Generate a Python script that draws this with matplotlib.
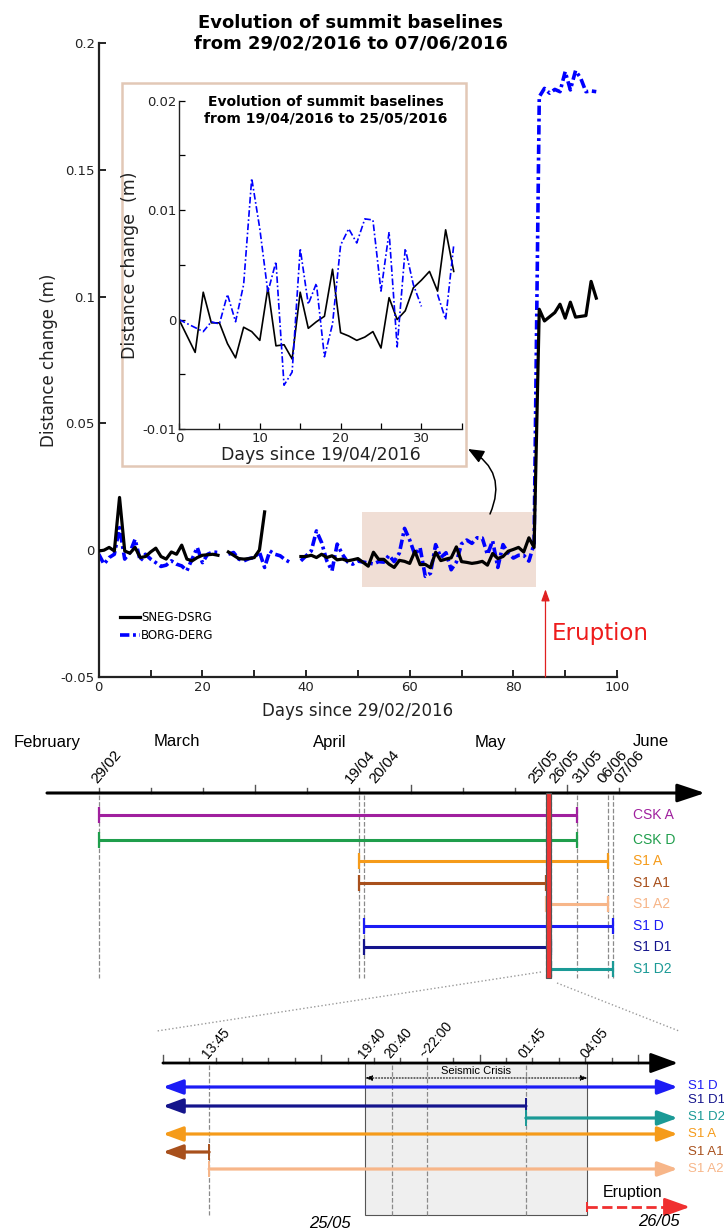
#!/usr/bin/env python3
"""
Summit baselines before/after the May 2016 eruption, with the SAR
acquisition timeline and a zoom on the night of 25-26/05.
"""

import numpy as np
import matplotlib
matplotlib.use("Agg")
import matplotlib.pyplot as plt
from matplotlib.patches import Rectangle
from matplotlib.ticker import MultipleLocator

nan = np.nan

# -- Main plot: days since 29/02/2016, distance change (m) ----------------
sneg_days = (list(range(0, 21)) + [22, 23, 24] + list(range(25, 34))
             + list(range(39, 51)) + list(range(52, 87))
             + [88, 89, 90, 91, 92, 94, 95, 96])
sneg_vals = [
    -0.0003, 0.0000, 0.0011, -0.0003, 0.0208, -0.0003, -0.0012, 0.0011,
    -0.0029, -0.0025, -0.0007, 0.0008, -0.0025, -0.0035, -0.0007, -0.0016,
    0.0020, -0.0035, -0.0042, -0.0029, -0.0020,
    -0.0016, -0.0020, nan,
    -0.0007, -0.0020, -0.0033, -0.0035, -0.0033, -0.0029, 0.0001, 0.0151, nan,
    -0.0025, -0.0025, -0.0020, -0.0029, -0.0016, -0.0029, -0.0022, -0.0038,
    -0.0035, -0.0042, -0.0038, -0.0033,
    -0.0063, -0.0008, -0.0036, -0.0036, -0.0055, -0.0068, -0.0040, -0.0044,
    -0.0052, -0.0004, -0.0057, -0.0056, -0.0069, -0.0008, -0.0041, -0.0035,
    -0.0030, 0.0013, -0.0045, -0.0048, -0.0052, -0.0049, -0.0044, -0.0059,
    -0.0013, -0.0033, -0.0025, -0.0004, 0.0003, 0.0011, -0.0007, 0.0049,
    0.0011, 0.0950, 0.0904,
    0.0937, 0.0970, 0.0915, 0.0978, 0.0919, 0.0925, 0.1060, 0.0994,
]

borg_days = (list(range(0, 25)) + list(range(25, 39))
             + list(range(39, 51)) + list(range(53, 97)))
borg_vals = [
    -0.0016, -0.0055, -0.0029, -0.0016, 0.0089, -0.0035, -0.0009, 0.0043,
    -0.0042, -0.0016, -0.0035, -0.0049, -0.0064, -0.0059, -0.0042, -0.0055,
    -0.0062, -0.0081, -0.0035, 0.0011, -0.0049, -0.0016, -0.0007, -0.0009, nan,
    -0.0016, -0.0009, -0.0035, -0.0042, -0.0033, -0.0029, -0.0007, -0.0068,
    -0.0003, -0.0016, -0.0022, -0.0038, -0.0049, nan,
    -0.0042, -0.0022, -0.0003, 0.0076, 0.0030, -0.0042, -0.0081, 0.0024,
    -0.0016, -0.0046, -0.0055, -0.0043,
    -0.0054, -0.0045, -0.0047, -0.0020, -0.0045, -0.0011, 0.0086, 0.0040,
    -0.0018, 0.0010, -0.0103, -0.0091, 0.0022, -0.0029, -0.0010, -0.0077,
    -0.0047, 0.0025, 0.0040, 0.0027, 0.0049, 0.0048, -0.0017, 0.0037,
    -0.0068, 0.0022, -0.0011, -0.0031, -0.0020, -0.0020, -0.0043, 0.0025,
    0.1788, 0.1821, 0.1802, 0.1817, 0.1808, 0.1887, 0.1815, 0.1891,
    0.1861, 0.1808, 0.1811, 0.1808,
]
eruption_day = 86.2
zoom_window = (50.8, 84.4)   # shaded span shown in the inset

# -- Inset: days since 19/04/2016 -------------------------------------------
inset_black_days = [0] + list(range(2, 35))
inset_black = [
    0.0, -0.0030, 0.0025, -0.0003, -0.0003, -0.0022, -0.0035, -0.0007,
    -0.0011, -0.0019, 0.0029, -0.0024, -0.0023, -0.0036, 0.0025, -0.0008,
    -0.0002, 0.0003, 0.0046, -0.0012, -0.0015, -0.0019, -0.0016, -0.0011,
    -0.0026, 0.0020, 0.0, 0.0008, 0.0029, 0.0036, 0.0044, 0.0026, 0.0082,
    0.0044,
]
inset_blue_days = [0] + list(range(3, 35))
inset_blue = [
    0.0, -0.0011, -0.0002, -0.0004, 0.0023, -0.0002, 0.0032, 0.0129,
    0.0083, 0.0025, 0.0053, -0.0060, -0.0048, 0.0065, 0.0014, 0.0033,
    -0.0034, -0.0004, 0.0068, 0.0083, 0.0070, 0.0092, 0.0091, 0.0026,
    0.0080, -0.0025, 0.0065, 0.0032, 0.0012, nan, 0.0023, 0.0, 0.0068,
]

# -- Acquisition timeline (days since 29/02/2016) ---------------------------
months = ["February", "March", "April", "May", "June"]
date_labels = ["29/02", "19/04", "20/04", "25/05", "26/05", "31/05", "06/06", "07/06"]
date_days = [0, 50, 51, 86, 87, 92, 98, 99]
tracks = ["CSK A", "CSK D", "S1 A", "S1 A1", "S1 A2", "S1 D", "S1 D1", "S1 D2"]
track_start = [0, 0, 50, 50, 86, 51, 51, 87]
track_end = [92, 92, 98, 86, 98, 99, 87, 99]

# -- Zoom on 25-26/05 (hours since 25/05 00:00) -----------------------------
event_labels = ["13:45", "19:40", "20:40", "~22:00", "01:45", "04:05"]
event_hours = [13.75, 19.667, 20.667, 22.0, 25.75, 28.083]
crisis = (19.667, 28.083)
zoom_tracks = ["S1 D", "S1 D1", "S1 D2", "S1 A", "S1 A1", "S1 A2"]
zoom_start = [nan, nan, 25.75, nan, nan, 13.75]   # nan = before window
zoom_end = [nan, 25.75, nan, nan, 13.75, nan]     # nan = after window

colors = {
    "CSK A": "#a0209e", "CSK D": "#1f9e4c", "S1 A": "#f59b1a",
    "S1 A1": "#a8501c", "S1 A2": "#f7b689", "S1 D": "#1c1cf5",
    "S1 D1": "#14148c", "S1 D2": "#1b9a96",
}

W, H = 724, 1230
SANS = "DejaVu Sans"
LIB = "Liberation Sans"


def overlay(fig, xlim):
    """Transparent full-figure axes: x in given units, y in pixels (down)."""
    a = fig.add_axes([0, 0, 1, 1])
    a.set_xlim(*xlim)
    a.set_ylim(H, 0)
    a.axis("off")
    return a


def main():
    plt.rcParams["font.family"] = SANS
    fig = plt.figure(figsize=(W / 100, H / 100), dpi=100)

    # -- Main baseline plot ------------------------------------------------
    ax = fig.add_axes([98.8 / W, 1 - 677 / H, (617 - 98.8) / W, (677 - 43) / H])
    ax.set_xlim(0, 100)
    ax.set_ylim(-0.05, 0.2)
    ax.add_patch(Rectangle((zoom_window[0], -0.0145),
                           zoom_window[1] - zoom_window[0], 0.0294,
                           fc="#f0ded5", ec="none", zorder=0))
    ax.plot(sneg_days, sneg_vals, color="black", lw=2.3, label="SNEG-DSRG", zorder=3)
    ax.plot(borg_days, borg_vals, color="blue", lw=2.6, ls="-.",
            dashes=(2.6, 1.0, 0.8, 1.0), label="BORG-DERG", zorder=2)
    ax.annotate("", xy=(eruption_day, -0.0154), xytext=(eruption_day, -0.05),
                arrowprops=dict(arrowstyle="-|>,head_length=0.5,head_width=0.18",
                                color="#e02020", lw=0.9, mutation_scale=14,
                                shrinkA=0, shrinkB=0))
    ax.text(eruption_day + 1.3, -0.0327, "Eruption", color="#ee1c1c",
            fontsize=16.5, va="center", ha="left")

    for side in ("top", "right"):
        ax.spines[side].set_visible(False)
    for side in ("left", "bottom"):
        ax.spines[side].set_linewidth(1.6)
        ax.spines[side].set_color("#222")
    ax.set_xticks([0, 20, 40, 60, 80, 100])
    ax.xaxis.set_minor_locator(MultipleLocator(10))
    ax.set_yticks([-0.05, 0, 0.05, 0.1, 0.15, 0.2])
    ax.set_yticklabels(["-0.05", "0", "0.05", "0.1", "0.15", "0.2"])
    ax.tick_params(which="both", direction="in", length=5, width=1.2,
                   labelsize=9.5, labelcolor="#222", pad=3)
    ax.set_xlabel("Days since 29/02/2016", fontsize=12, color="#222", labelpad=6)
    ax.set_ylabel("Distance change (m)", fontsize=12, color="#222", labelpad=2)
    ax.legend(loc="lower left", bbox_to_anchor=(0.04, 0.055), frameon=False,
              fontsize=8.5, handlelength=1.7, handletextpad=0.15,
              labelspacing=0.45, borderpad=0, borderaxespad=0)
    fig.text(351 / W, 1 - 33 / H,
             "Evolution of summit baselines\nfrom 29/02/2016 to 07/06/2016",
             ha="center", va="center", fontsize=13, fontweight="bold",
             linespacing=1.2)

    # -- Pixel overlay: inset frame, curved arrow, zoom guides -------------
    px = overlay(fig, (0, W))
    px.add_patch(Rectangle((122, 83), 344, 383, fc="white", ec="#e2c8b6", lw=1.8))
    px.annotate("", xy=(468, 449), xytext=(490, 514),
                arrowprops=dict(arrowstyle="-|>,head_length=0.6,head_width=0.25",
                                connectionstyle="arc3,rad=0.45", color="black",
                                lw=1.1, mutation_scale=16, shrinkA=0, shrinkB=0))
    px.plot([541, 157], [972, 1031], color="#9a9a9a", ls=":", lw=1)
    px.plot([557, 679], [983, 1031], color="#9a9a9a", ls=":", lw=1)

    # -- Inset -------------------------------------------------------------
    ins = fig.add_axes([179 / W, 1 - 429 / H, (461.8 - 179) / W, (429 - 100.7) / H])
    ins.set_xlim(0, 35)
    ins.set_ylim(-0.01, 0.02)
    ins.plot(inset_black_days, inset_black, color="black", lw=1.2)
    ins.plot(inset_blue_days, inset_blue, color="blue", lw=1.2, ls="-.",
             dashes=(4, 1.5, 1, 1.5))
    for side in ("top", "right"):
        ins.spines[side].set_visible(False)
    for side in ("left", "bottom"):
        ins.spines[side].set_linewidth(1.0)
        ins.spines[side].set_color("#222")
    ins.set_xticks([0, 10, 20, 30])
    ins.xaxis.set_minor_locator(MultipleLocator(5))
    ins.set_yticks([-0.01, 0, 0.01, 0.02])
    ins.set_yticklabels(["-0.01", "0", "0.01", "0.02"])
    ins.yaxis.set_minor_locator(MultipleLocator(0.005))
    ins.tick_params(which="both", direction="in", length=4, width=0.9,
                    labelsize=9.5, labelcolor="#222", pad=2)
    ins.set_xlabel("Days since 19/04/2016", fontsize=12.5, color="#222", labelpad=1)
    ins.set_ylabel("Distance change  (m)", fontsize=12.5, color="#222", labelpad=2)
    fig.text(326 / W, 1 - 110 / H,
             "Evolution of summit baselines\nfrom 19/04/2016 to 25/05/2016",
             ha="center", va="center", fontsize=10, fontweight="bold")

    # -- Acquisition timeline (x in days) ----------------------------------
    k, x0 = 5.2, 98.5
    tl = overlay(fig, (-x0 / k, (W - x0) / k))
    y_axis = 793
    tl.annotate("", xy=((705 - x0) / k, y_axis), xytext=((47 - x0) / k, y_axis),
                arrowprops=dict(arrowstyle="-|>,head_length=0.6,head_width=0.2",
                                color="black", lw=2.2, mutation_scale=28,
                                shrinkA=0, shrinkB=0))
    for d in range(0, 101, 10):
        top = y_axis - (8 if d in (30, 60, 90) else 5)
        tl.plot([d, d], [y_axis, top], color="#555", lw=1)
    for d in date_days:
        tl.plot([d, d], [y_axis + 2, 978], color="#8a8a8a", ls="--", lw=0.9, zorder=1)
    tl.add_patch(Rectangle((86, y_axis), 1, 978 - y_axis, fc="#ee3535",
                           ec="#555", lw=0.8, zorder=5))

    row_y = [815, 840, 861, 883, 904, 926, 947, 969]
    for name, s, e, y in zip(tracks, track_start, track_end, row_y):
        c = colors[name]
        tl.plot([s, e], [y, y], color=c, lw=2.2, zorder=3, solid_capstyle="butt")
        tl.plot([s, e], [y, y], ls="none", marker="|", ms=11, mew=1.6,
                color=c, zorder=3)
        px.text(633, y, name, color=c, fontsize=10, va="center", ha="left",
                family=LIB)

    month_px = [47, 177, 330, 490, 651]
    for m, x in zip(months, month_px):
        px.text(x, 742, m, ha="center", va="center", fontsize=12, family=LIB)
    label_px = [97, 351, 375, 534, 555, 578, 603, 620]
    for lab, x in zip(date_labels, label_px):
        px.text(x, 784, lab, rotation=50, rotation_mode="anchor", ha="left",
                va="baseline", fontsize=11, family=LIB)

    # -- Zoom on 25-26/05 (x in hours) -------------------------------------
    kh, h0, hx0 = 26.4, 12.0, 162.9
    zl = overlay(fig, (h0 - hx0 / kh, h0 + (W - hx0) / kh))
    yz = 1063
    left, right = 12.0, 31.5
    zl.add_patch(Rectangle((crisis[0], yz), crisis[1] - crisis[0], 1215 - yz,
                           fc="#efefef", ec="#555", lw=0.8, zorder=0))
    zl.annotate("", xy=(h0 + (678 - hx0) / kh, yz), xytext=(left, yz),
                arrowprops=dict(arrowstyle="-|>,head_length=0.6,head_width=0.22",
                                color="black", lw=2.0, mutation_scale=28,
                                shrinkA=0, shrinkB=0))
    for h in range(12, 31):
        top = yz - (8 if h in (12, 18, 24, 30) else 5)
        zl.plot([h, h], [yz, top], color="#555", lw=1)
    for h in event_hours:
        if h in crisis:
            continue
        zl.plot([h, h], [yz + 2, 1215], color="#8a8a8a", ls="--", lw=0.9, zorder=1)
    for lab, h in zip(event_labels, event_hours):
        zl.text(h - 0.04, 1059, lab, rotation=50, rotation_mode="anchor",
                ha="left", va="baseline", fontsize=10, family=LIB)

    zl.text(sum(crisis) / 2, 1071, "Seismic Crisis", ha="center", va="center",
            fontsize=8, family=LIB)
    zl.annotate("", xy=(crisis[1], 1078), xytext=(crisis[0], 1078),
                arrowprops=dict(arrowstyle="<|-|>,head_length=0.5,head_width=0.2",
                                color="black", lw=0.8, ls=":", mutation_scale=8,
                                shrinkA=0, shrinkB=0))

    zrow_y = [1087, 1106, 1118, 1134, 1152, 1169]
    zlab_y = [1086, 1100, 1117, 1134, 1152, 1169]
    for name, s, e, y, ly in zip(zoom_tracks, zoom_start, zoom_end, zrow_y, zlab_y):
        c = colors[name]
        open_l, open_r = np.isnan(s), np.isnan(e)
        a = left if open_l else s
        b = right if open_r else e
        style = {(True, True): "<|-|>", (True, False): "<|-",
                 (False, True): "-|>"}[(open_l, open_r)]
        zl.annotate("", xy=(b, y), xytext=(a, y),
                    arrowprops=dict(arrowstyle=style + ",head_length=0.6,head_width=0.22",
                                    color=c, lw=2.3, mutation_scale=20,
                                    shrinkA=0, shrinkB=0))
        for end, is_open in ((a, open_l), (b, open_r)):
            if not is_open:
                zl.plot([end], [y], ls="none", marker="|", ms=11, mew=1.4, color=c)
        px.text(688, ly, name, color=c, fontsize=9.5, va="center", ha="left",
                family=LIB)

    # eruption onset after the crisis
    y_er = 1207
    zl.plot([crisis[1], 31.2], [y_er, y_er], color="#f03030", lw=2, ls="--")
    zl.plot([crisis[1]], [y_er], ls="none", marker="|", ms=7, mew=1.4, color="#f03030")
    zl.annotate("", xy=(h0 + (690 - hx0) / kh, y_er), xytext=(31.0, y_er),
                arrowprops=dict(arrowstyle="-|>,head_length=0.7,head_width=0.25",
                                color="#f03030", lw=2, mutation_scale=22,
                                shrinkA=0, shrinkB=0))
    zl.text(29.8, 1193, "Eruption", ha="center", va="center", fontsize=11.5,
            family=LIB)
    zl.text(18.34, 1223, "25/05", ha="center", va="center", fontsize=12,
            style="italic", family=LIB)
    zl.text(30.79, 1222, "26/05", ha="center", va="center", fontsize=12,
            style="italic", family=LIB)

    fig.savefig("out.png", dpi=100)


if __name__ == "__main__":
    main()
